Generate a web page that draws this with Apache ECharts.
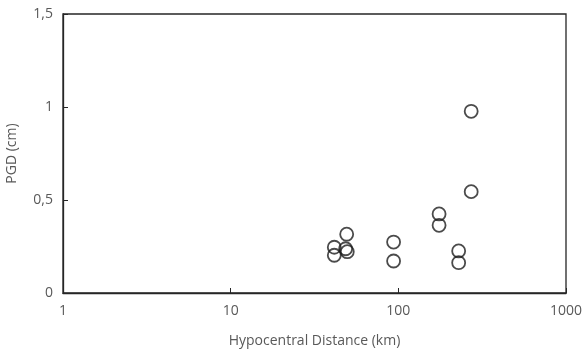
<!DOCTYPE html>
<html>
<head>
<meta charset="utf-8">
<script src="https://cdn.jsdelivr.net/npm/echarts@6/dist/echarts.min.js"></script>
<style>
  html, body { margin: 0; padding: 0; background: #fff; }
  #chart { width: 582px; height: 353px; }
</style>
</head>
<body>
<div id="chart"></div>
<script>
// Hypocentral distance (km) and peak ground displacement (cm) per station
const distanceKm = [272, 272, 175, 175, 229, 229, 93.7, 93.7, 49.2, 41.5, 41.5, 48.5, 49.6];
const pgdCm = [0.977, 0.545, 0.425, 0.364, 0.226, 0.163, 0.274, 0.172, 0.316, 0.246, 0.203, 0.238, 0.222];
const yTicks = [0, 0.5, 1, 1.5];
const xTicks = [1, 10, 100, 1000];

const points = distanceKm.map((d, i) => [d, pgdCm[i]]);

const labelStyle = { color: '#595959', fontSize: 14, fontFamily: 'Open Sans' };

const chart = echarts.init(document.getElementById('chart'), null, { renderer: 'canvas' });
chart.setOption({
  animation: false,
  backgroundColor: '#fff',
  grid: {
    left: 63, right: 16, top: 14, bottom: 60,
    outerBoundsMode: 'none',
    containLabel: false,
    show: true, borderColor: '#262626', borderWidth: 1.3, backgroundColor: 'transparent'
  },
  xAxis: {
    type: 'log',
    logBase: 10,
    min: xTicks[0],
    max: xTicks[xTicks.length - 1],
    name: 'Hypocentral Distance (km)',
    nameLocation: 'middle',
    nameGap: 41,
    nameTextStyle: Object.assign({}, labelStyle),
    axisLine: { lineStyle: { color: '#262626', width: 1.3 } },
    axisTick: { inside: true, length: 5, lineStyle: { color: '#262626' } },
    splitLine: { show: false },
    minorTick: { show: false },
    axisLabel: Object.assign({ margin: 11 }, labelStyle, {
      formatter: v => String(Math.round(v))
    })
  },
  yAxis: {
    type: 'value',
    min: yTicks[0],
    max: yTicks[yTicks.length - 1],
    interval: 0.5,
    name: 'PGD (cm)',
    nameLocation: 'middle',
    nameGap: 44,
    nameRotate: 90,
    nameTextStyle: Object.assign({}, labelStyle),
    axisLine: { show: true, lineStyle: { color: '#262626', width: 1.3 } },
    axisTick: { show: true, inside: true, length: 5, lineStyle: { color: '#262626' } },
    splitLine: { show: false },
    axisLabel: Object.assign({ margin: 10 }, labelStyle, {
      formatter: v => String(v).replace('.', ',')
    })
  },
  series: [{
    type: 'scatter',
    data: points,
    symbol: 'circle',
    symbolSize: 13,
    itemStyle: { color: 'rgba(255,255,255,0)', borderColor: '#1e1e1e', borderWidth: 1.8 }
  }]
});
</script>
</body>
</html>
